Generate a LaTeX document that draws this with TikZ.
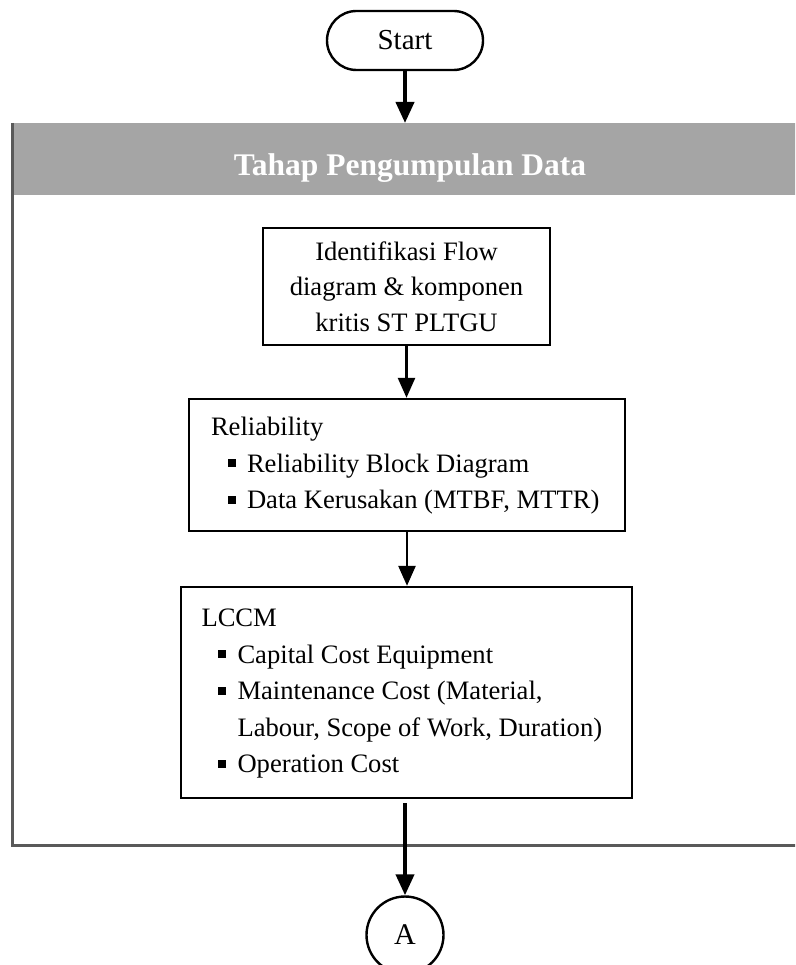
\documentclass[tikz,border=0pt]{standalone}
\usepackage{fontspec}
\setmainfont{Liberation Serif}
\usetikzlibrary{arrows.meta}
\definecolor{barGray}{HTML}{A5A5A5}
\definecolor{frameGray}{HTML}{595959}
% square list marker: indent, square, gap before the item text
\newcommand\sqbul{\hspace*{16.5pt}\makebox[19.5pt][l]{\raisebox{5pt}{\rule{8pt}{8pt}}}}
% left-aligned block of lines, padded to a fixed width
\newcommand\linesblock[2]{\makebox[#1][l]{\begin{tabular}{@{}l@{}}#2\end{tabular}}}
\begin{document}
\begin{tikzpicture}[x=1pt,y=-1pt,
  txt/.style={font=\fontsize{26.6}{36.5}\selectfont},
  box/.style={draw=black, line width=2.4pt, fill=white, inner sep=0pt, txt},
  flowarrow/.style={-{Triangle[width=17pt,length=20pt]}, line width=2.6pt},
  heavyarrow/.style={-{Triangle[width=18pt,length=21pt]}, line width=4pt},
  frameline/.style={draw=frameGray, line width=3pt}]
\useasboundingbox (0,0) rectangle (795,965);
\clip (0,0) rectangle (795,965);

% terminal
\node[box, font=\fontsize{29}{34}\selectfont, rounded corners=29.5pt, minimum width=156pt, minimum height=59pt] (start) at (405,40.5) {Start};

% stage header bar and enclosing frame
\node[fill=barGray, inner sep=0pt, minimum width=796pt, minimum height=72pt, anchor=north west] (bar) at (12,123) {};
\node[font=\fontsize{31.5}{36}\selectfont\bfseries, text=white, anchor=base] (title) at (410,176) {Tahap Pengumpulan Data};
\draw[frameline] (12,123) -- (12,845) -- (800,845);

% process boxes
\node[box, font=\fontsize{26.6}{35.5}\selectfont, align=center, minimum width=287pt, minimum height=117pt] (ident) at (406.5,286.5)
  {Identifikasi Flow\\diagram \& komponen\\kritis ST PLTGU};
\node[box, minimum width=436pt, minimum height=132pt] (rel) at (407,465)
  {\linesblock{392pt}{Reliability\\
   \sqbul Reliability Block Diagram\\
   \sqbul Data Kerusakan (MTBF, MTTR)}};
\node[box, minimum width=451pt, minimum height=211pt] (lccm) at (406.5,692.5)
  {\linesblock{410pt}{LCCM\\
   \sqbul Capital Cost Equipment\\
   \sqbul Maintenance Cost (Material,\\
   \hspace*{36pt}Labour, Scope of Work, Duration)\\
   \sqbul Operation Cost}};

% off-page connector
\node[draw=black, line width=2.4pt, circle, inner sep=0pt, minimum size=77pt, font=\fontsize{30}{34}\selectfont] (A) at (405,935) {A};

% connectors
\draw[heavyarrow] (start.south) -- (start.south |- bar.north);
\draw[flowarrow] (ident.south) -- (rel.north -| ident.south);
\draw[flowarrow] (rel.south) -- (rel.south |- lccm.north);
\draw[heavyarrow, shorten <=4pt] (lccm.south -| A.north) -- (A.north);
\end{tikzpicture}
\end{document}
